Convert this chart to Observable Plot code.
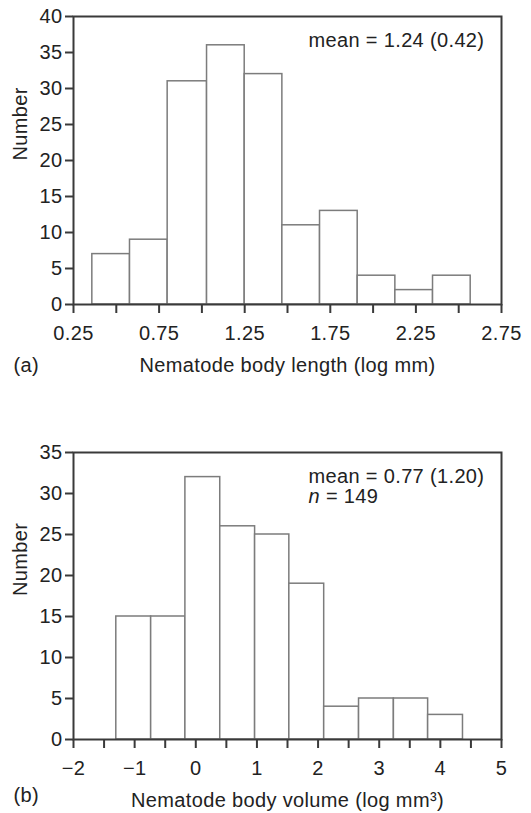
<!DOCTYPE html>
<html><head><meta charset="utf-8">
<script src="https://cdn.jsdelivr.net/npm/d3@7"></script>
<script src="https://cdn.jsdelivr.net/npm/@observablehq/plot@0.6"></script>
<style>
body{margin:0;background:#fff;}
#chart svg{display:block;}
</style></head><body><div id="chart"></div>
<script>
// Panel (a): nematode body length (log mm)
const lengthEdges = [0.36, 0.58, 0.80, 1.03, 1.25, 1.47, 1.69, 1.91, 2.13, 2.35, 2.57];
const lengthCounts = [7, 9, 31, 36, 32, 11, 13, 4, 2, 4];
const lengthTicks = [0.25, 0.5, 0.75, 1.0, 1.25, 1.5, 1.75, 2.0, 2.25, 2.5, 2.75];
const lengthMajor = [0.25, 0.75, 1.25, 1.75, 2.25, 2.75];
const lengthTickLabels = ["0.25", "0.75", "1.25", "1.75", "2.25", "2.75"];
const countTicksA = [0, 5, 10, 15, 20, 25, 30, 35, 40];

// Panel (b): nematode body volume (log mm3)
const volumeEdges = [-1.30, -0.73, -0.17, 0.40, 0.97, 1.53, 2.10, 2.67, 3.24, 3.80, 4.37];
const volumeCounts = [15, 15, 32, 26, 25, 19, 4, 5, 5, 3];
const volumeTicks = [-2, -1.5, -1, -0.5, 0, 0.5, 1, 1.5, 2, 2.5, 3, 3.5, 4, 4.5, 5];
const volumeMajor = [-2, -1, 0, 1, 2, 3, 4, 5];
const volumeTickLabels = ["\u22122", "\u22121", "0", "1", "2", "3", "4", "5"];
const countTicksB = [0, 5, 10, 15, 20, 25, 30, 35];

const texts = {
  a: {panel: "(a)", xLabel: "Nematode body length (log mm)", stats: ["mean = 1.24 (0.42)"]},
  b: {panel: "(b)", xLabel: "Nematode body volume (log mm\u00B3)", stats: ["mean = 0.77 (1.20)", "n = 149"]}
};

const FONT = {fontFamily: "'Liberation Sans', Arial, Helvetica, sans-serif", fontSize: "20px", color: "#222", letterSpacing: "0.35px", background: "#fff"};
const W = 531;

function panel({edges, counts, xDomain, xTicks, major, labels, yDomain, yTicks, height, mt, mb, t, titleDy, panelDy, statsDy, statsGap}) {
  const bins = counts.map((c, i) => ({x1: edges[i], x2: edges[i + 1], y: c}));
  const fmt = d => { const i = major.indexOf(d); return i >= 0 ? labels[i] : ""; };
  const marks = [
    Plot.rectY(bins, {x1: "x1", x2: "x2", y: "y", fill: "white", stroke: "#7c7c7c", strokeWidth: 1.5}),
    Plot.frame({stroke: "#3a3a3a", strokeWidth: 2}),
    Plot.axisY({ticks: yTicks, tickSize: 8, tickPadding: 3, stroke: "#3a3a3a", strokeWidth: 2, label: null}),
    Plot.axisX({ticks: xTicks, tickFormat: fmt, tickSize: 9, tickPadding: 12, stroke: "#3a3a3a", strokeWidth: 2, label: null}),
    Plot.text([t.xLabel], {text: d => d, frameAnchor: "bottom", dy: titleDy, lineAnchor: "middle", fill: "#222"}),
    Plot.text([t.panel], {text: d => d, frameAnchor: "bottom-left", dx: -60, dy: panelDy, textAnchor: "start", lineAnchor: "middle", fill: "#222"}),
    Plot.text(["Number"], {text: d => d, frameAnchor: "left", dx: -53, rotate: -90, lineAnchor: "middle", fill: "#222"}),
    ...t.stats.map((s, i) => Plot.text([s], {text: d => d, frameAnchor: "top-left", dx: 235, dy: statsDy + i * statsGap, textAnchor: "start", lineAnchor: "middle", fill: "#222"}))
  ];
  return Plot.plot({width: W, height, marginLeft: 73, marginRight: 30, marginTop: mt, marginBottom: mb, style: FONT,
    x: {domain: xDomain}, y: {domain: yDomain}, marks});
}

const svgA = panel({edges: lengthEdges, counts: lengthCounts, xDomain: [0.25, 2.75], xTicks: lengthTicks, major: lengthMajor, labels: lengthTickLabels,
  yDomain: [0, 40], yTicks: countTicksA, height: 400, mt: 16, mb: 96, t: texts.a, titleDy: 61, panelDy: 61, statsDy: 24, statsGap: 20});

const svgB = panel({edges: volumeEdges, counts: volumeCounts, xDomain: [-2, 5], xTicks: volumeTicks, major: volumeMajor, labels: volumeTickLabels,
  yDomain: [0, 35], yTicks: countTicksB, height: 413, mt: 52, mb: 74, t: texts.b, titleDy: 61, panelDy: 56, statsDy: 24, statsGap: 20});

document.getElementById("chart").append(svgA, svgB);

// italic "n" in the sample-size note
d3.select(svgB).selectAll("text").filter(function () { return this.textContent === "n = 149"; })
  .each(function () {
    const el = d3.select(this);
    el.text("");
    el.append("tspan").attr("font-style", "italic").text("n");
    el.append("tspan").text(" = 149");
  });
</script></body></html>
